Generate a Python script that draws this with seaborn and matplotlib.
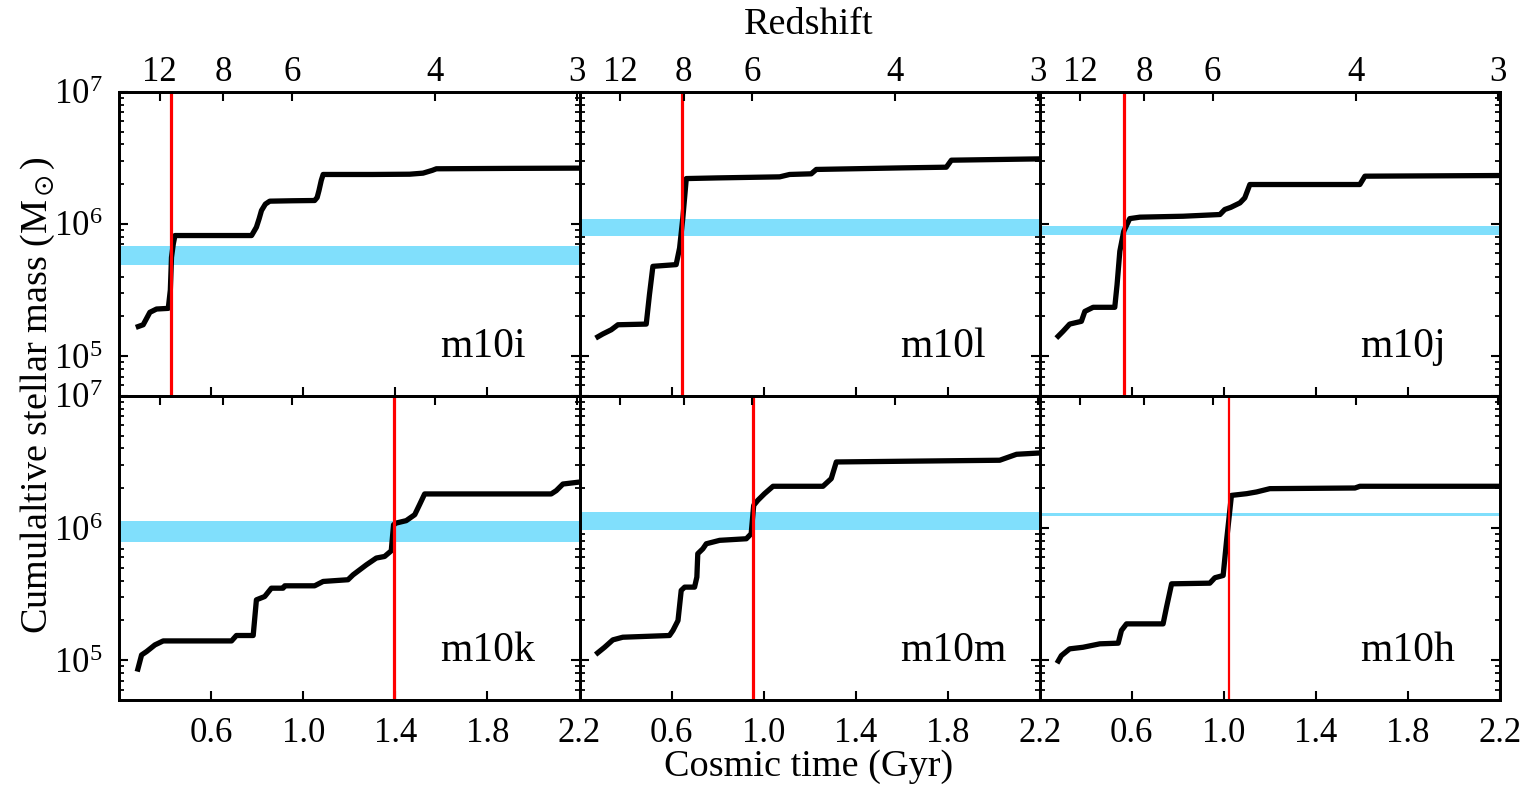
import numpy as np
import pandas as pd
import matplotlib
matplotlib.use("Agg")
import matplotlib.pyplot as plt
import seaborn as sns
from matplotlib.ticker import LogLocator, FixedLocator, NullFormatter, NullLocator, LogFormatterMathtext

# ---------------- data ----------------
galaxies = ["m10i", "m10l", "m10j", "m10k", "m10m", "m10h"]

t_m10i = [0.272, 0.304, 0.333, 0.362, 0.413, 0.422, 0.427, 0.435, 0.442, 0.60, 0.775, 0.796, 0.808,
          0.818, 0.835, 0.854, 0.95, 1.049, 1.060, 1.068, 1.078, 1.086, 1.30, 1.462, 1.52, 1.56, 1.578, 1.9, 2.2]
logm_m10i = [5.217, 5.237, 5.331, 5.356, 5.361, 5.50, 5.747, 5.85, 5.912, 5.912, 5.912, 5.975, 6.04,
             6.101, 6.15, 6.172, 6.175, 6.177, 6.20, 6.253, 6.33, 6.374, 6.374, 6.376, 6.384, 6.405, 6.417, 6.420, 6.422]

t_m10l = [0.270, 0.301, 0.338, 0.367, 0.490, 0.504, 0.519, 0.620, 0.635, 0.649, 0.664, 0.80, 1.07,
          1.113, 1.207, 1.229, 1.606, 1.794, 1.816, 2.2]
logm_m10l = [5.136, 5.167, 5.199, 5.237, 5.242, 5.465, 5.679, 5.692, 5.818, 6.045, 6.343, 6.348, 6.356,
             6.374, 6.379, 6.412, 6.424, 6.429, 6.482, 6.492]

t_m10j = [0.272, 0.301, 0.330, 0.381, 0.396, 0.432, 0.526, 0.536, 0.548, 0.565, 0.591, 0.635, 0.823,
          0.983, 1.004, 1.03, 1.07, 1.091, 1.113, 1.591, 1.613, 2.2]
logm_m10j = [5.136, 5.187, 5.242, 5.263, 5.338, 5.369, 5.369, 5.540, 5.793, 5.944, 6.040, 6.051, 6.058,
             6.071, 6.109, 6.125, 6.159, 6.197, 6.298, 6.298, 6.361, 6.366]

t_m10k = [0.278, 0.297, 0.319, 0.355, 0.391, 0.688, 0.709, 0.782, 0.796, 0.832, 0.861, 0.912, 0.919,
          1.049, 1.086, 1.194, 1.216, 1.274, 1.317, 1.353, 1.382, 1.392, 1.404, 1.447, 1.484, 1.505,
          1.527, 2.077, 2.099, 2.128, 2.2]
logm_m10k = [4.914, 5.040, 5.066, 5.116, 5.146, 5.146, 5.187, 5.187, 5.457, 5.482, 5.545, 5.545, 5.563,
             5.563, 5.596, 5.609, 5.646, 5.722, 5.773, 5.785, 5.828, 6.025, 6.038, 6.056, 6.101, 6.177,
             6.258, 6.258, 6.283, 6.333, 6.348]

t_m10m = [0.270, 0.309, 0.345, 0.388, 0.591, 0.606, 0.628, 0.642, 0.657, 0.700, 0.710, 0.714, 0.736,
          0.751, 0.809, 0.925, 0.946, 0.957, 0.975, 1.004, 1.041, 1.258, 1.294, 1.316, 1.751, 2.026,
          2.099, 2.2]
logm_m10m = [5.043, 5.098, 5.154, 5.174, 5.187, 5.225, 5.300, 5.528, 5.553, 5.553, 5.629, 5.806, 5.843,
             5.881, 5.907, 5.919, 5.957, 6.172, 6.210, 6.260, 6.316, 6.316, 6.374, 6.500, 6.508, 6.513,
             6.558, 6.568]

t_m10h = [0.275, 0.294, 0.330, 0.388, 0.461, 0.541, 0.555, 0.577, 0.736, 0.751, 0.773, 0.939, 0.961,
          0.997, 1.012, 1.033, 1.099, 1.142, 1.2, 1.570, 1.591, 2.2]
logm_m10h = [4.977, 5.035, 5.086, 5.098, 5.124, 5.129, 5.225, 5.275, 5.275, 5.402, 5.578, 5.583, 5.624,
             5.641, 5.907, 6.247, 6.260, 6.273, 6.298, 6.303, 6.316, 6.316]

times = [t_m10i, t_m10l, t_m10j, t_m10k, t_m10m, t_m10h]
logms = [logm_m10i, logm_m10l, logm_m10j, logm_m10k, logm_m10m, logm_m10h]

# vertical red line (Gyr)
red_time = [0.425, 0.644, 0.565, 1.392, 0.955, 1.022]
# horizontal band (log10 Msun)
band_lo = [5.689, 5.912, 5.919, 5.891, 5.982, 6.088]
band_hi = [5.836, 6.040, 5.982, 6.051, 6.121, 6.116]

time_ticks = [0.6, 1.0, 1.4, 1.8, 2.2]
time_labels = ["0.6", "1.0", "1.4", "1.8", "2.2"]
z_ticks = [12, 8, 6, 4, 3]


def z_to_time(z, h=0.675, om=0.3):
    ol = 1.0 - om
    th = 977.8 / (100.0 * h)
    return 2.0 / (3.0 * np.sqrt(ol)) * th * np.arcsinh(np.sqrt(ol / om) * (1.0 + np.asarray(z, float)) ** -1.5)


# ---------------- style ----------------
sns.set_style("ticks")
plt.rcParams["font.family"] = ["Liberation Serif", "DejaVu Serif"]
plt.rcParams["mathtext.fontset"] = "stix"
for k in ["text.color", "axes.labelcolor", "xtick.color", "ytick.color", "axes.edgecolor"]:
    plt.rcParams[k] = "black"

TICK_FS = 25
LABEL_FS = 27.5
PANEL_FS = 30
BAND_COLOR = "#80dffc"

fig, axes = plt.subplots(2, 3, figsize=(15.25, 7.86), dpi=100, sharex=True, sharey=True)
fig.subplots_adjust(left=0.0782, right=0.9836, top=0.8833, bottom=0.1094, wspace=0, hspace=0)

z_times = z_to_time(z_ticks)

for i, ax in enumerate(axes.flat):
    row, col = divmod(i, 3)
    df = pd.DataFrame({"t": times[i], "mass": 10 ** np.asarray(logms[i])})
    ax.axhspan(10 ** band_lo[i], 10 ** band_hi[i], color=BAND_COLOR, lw=0, zorder=1)
    sns.lineplot(data=df, x="t", y="mass", ax=ax, color="black", lw=3.8,
                 estimator=None, sort=False, zorder=3, solid_capstyle="butt",
                 solid_joinstyle="round")
    ax.axvline(red_time[i], color="red", lw=(1.6 if i == 5 else 2.3), zorder=4)
    ax.set_yscale("log")
    ax.set_xlim(0.2, 2.2)
    ax.set_ylim(5e4, 1e7)
    ax.set_xlabel("")
    ax.set_ylabel("")
    ax.text(0.697, 0.128, galaxies[i], transform=ax.transAxes, fontsize=PANEL_FS,
            ha="left", va="baseline", zorder=5)

    ax.xaxis.set_major_locator(FixedLocator(time_ticks))
    ax.set_xticklabels(time_labels)
    ax.xaxis.set_minor_locator(NullLocator())
    ax.yaxis.set_major_locator(LogLocator(base=10, numticks=10))
    ax.yaxis.set_minor_locator(LogLocator(base=10, subs=np.arange(2, 10), numticks=20))
    ax.yaxis.set_minor_formatter(NullFormatter())
    ax.yaxis.set_major_formatter(LogFormatterMathtext())
    ax.tick_params(axis="y", which="major", direction="in", length=6.5, width=1.5,
                   labelsize=TICK_FS, pad=12, colors="black")
    ax.tick_params(axis="x", which="major", direction="in", length=6.5, width=1.5,
                   labelsize=TICK_FS, pad=12, colors="black")
    ax.tick_params(axis="y", which="minor", direction="in", length=3.5, width=1.3, colors="black")
    ax.tick_params(axis="y", which="both", left=True, right=True)
    ax.tick_params(axis="x", which="both", bottom=True, top=False)
    ax.tick_params(labelbottom=(row == 1), labelleft=(col == 0))
    for sp in ax.spines.values():
        sp.set_linewidth(2.0)
        sp.set_color("black")
        sp.set_zorder(6)

    # redshift axis on top
    ax2 = ax.twiny()
    ax2.set_xlim(0.2, 2.2)
    ax2.xaxis.set_major_locator(FixedLocator(list(z_times)))
    ax2.set_xticklabels([str(z) for z in z_ticks])
    ax2.xaxis.set_minor_locator(NullLocator())
    ax2.tick_params(axis="x", which="major", direction="in", length=6.5, width=1.5,
                    labelsize=TICK_FS, pad=2, labeltop=(row == 0), colors="black")
    for sp in ax2.spines.values():
        sp.set_linewidth(2.0)
        sp.set_color("black")

fig.text(0.530, 0.968, "Redshift", fontsize=LABEL_FS, ha="center", va="center")
fig.text(0.530, 0.024, "Cosmic time (Gyr)", fontsize=LABEL_FS, ha="center", va="center")
fig.text(0.025, 0.497, r"Cumulaltive stellar mass (M$_\odot$)", fontsize=LABEL_FS,
         ha="center", va="center", rotation=90)

fig.savefig("out.png", dpi=100)
